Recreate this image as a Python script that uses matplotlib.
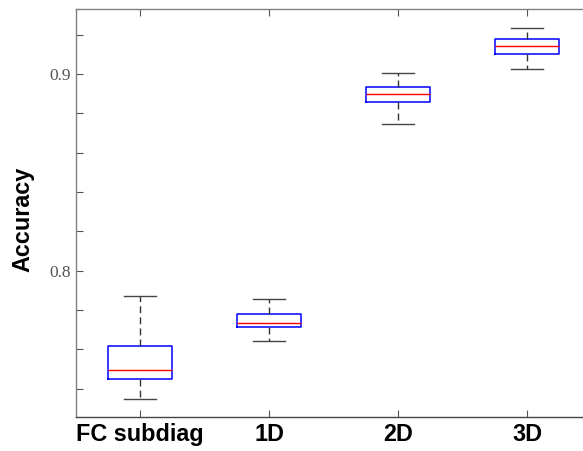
import matplotlib
matplotlib.use('Agg')
import matplotlib.pyplot as plt

# box statistics
categories = ['FC subdiag', '1D', '2D', '3D']
whislo = [0.7350, 0.7640, 0.8746, 0.9027]
q1 = [0.7451, 0.7712, 0.8856, 0.9103]
med = [0.7497, 0.7733, 0.8897, 0.9142]
q3 = [0.7617, 0.7780, 0.8935, 0.9180]
whishi = [0.7872, 0.7856, 0.9007, 0.9236]

yticks = [0.74, 0.76, 0.78, 0.80, 0.82, 0.84, 0.86, 0.88, 0.90, 0.92]
ylabels = {0.80: '0.8', 0.90: '0.9'}


def plot():
    fig = plt.figure(figsize=(5.83, 4.51), dpi=100)
    ax = fig.add_axes([0.1298, 0.0754, 0.885, 0.9047])

    stats = []
    for i, name in enumerate(categories):
        stats.append({'label': name, 'whislo': whislo[i], 'q1': q1[i], 'med': med[i],
                      'q3': q3[i], 'whishi': whishi[i], 'fliers': []})

    ax.bxp(stats, positions=range(1, len(categories) + 1), widths=0.5,
           showfliers=False,
           boxprops=dict(color='#0000ff', linewidth=1.1),
           medianprops=dict(color='#ff0000', linewidth=1.0),
           whiskerprops=dict(color='#333333', linewidth=1.0, linestyle=(0, (5, 3))),
           capprops=dict(color='#444444', linewidth=1.0),
           capwidths=0.25)

    ax.set_xlim(0.5, 4.5)
    ax.set_ylim(0.7256, 0.9331)

    ax.set_yticks(yticks)
    ax.set_yticklabels([ylabels.get(round(t, 2), '') for t in yticks],
                       fontfamily='Liberation Serif', fontsize=12.5, color='#555555')
    ax.set_xticks(range(1, len(categories) + 1))
    ax.set_xticklabels(categories, fontfamily='Liberation Sans', fontsize=16.8,
                       fontweight='bold', color='black')

    ax.tick_params(axis='both', direction='in', length=5, width=0.8, color='#555555',
                   top=True, right=True)
    ax.tick_params(axis='y', pad=3.5)
    ax.tick_params(axis='x', pad=4)

    for side in ['left', 'top', 'right']:
        ax.spines[side].set_color('#808080')
    ax.spines['bottom'].set_color('#444444')
    for s in ax.spines.values():
        s.set_linewidth(1.0)

    ax.set_ylabel('Accuracy', fontfamily='Liberation Sans', fontsize=16.8,
                  fontweight='bold')
    ax.yaxis.set_label_coords(-0.079, 0.485)

    fig.savefig('out.png', dpi=100)


if __name__ == '__main__':
    plot()
